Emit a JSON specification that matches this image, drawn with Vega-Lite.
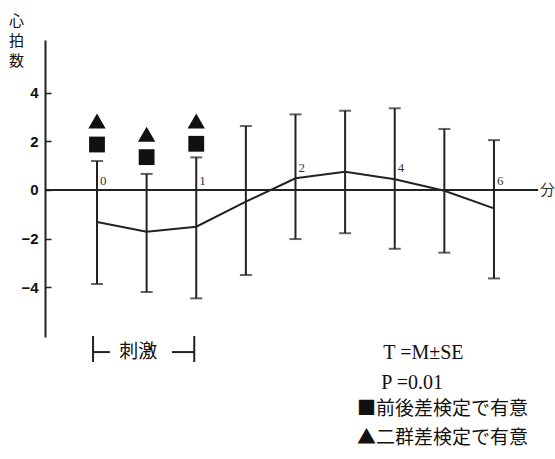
{
  "$schema": "https://vega.github.io/schema/vega-lite/v6.json",
  "autosize": "none",
  "width": 510,
  "height": 297,
  "padding": {"left": 45, "top": 40, "right": 0, "bottom": 122},
  "background": "white",
  "config": {"view": {"stroke": null}},
  "datasets": {
    "hr": [
      {"t": 0, "mean": -1.32, "lower": -3.87, "upper": 1.19},
      {"t": 1, "mean": -1.72, "lower": -4.2, "upper": 0.66},
      {"t": 2, "mean": -1.51, "lower": -4.46, "upper": 1.34},
      {"t": 3, "mean": -0.48, "lower": -3.5, "upper": 2.63},
      {"t": 4, "mean": 0.48, "lower": -2.02, "upper": 3.11},
      {"t": 5, "mean": 0.75, "lower": -1.78, "upper": 3.26},
      {"t": 6, "mean": 0.44, "lower": -2.42, "upper": 3.36},
      {"t": 7, "mean": -0.03, "lower": -2.58, "upper": 2.51},
      {"t": 8, "mean": -0.76, "lower": -3.64, "upper": 2.05}
    ],
    "marks": [
      {"t": 0, "v": 1.87, "kind": "square"},
      {"t": 1, "v": 1.35, "kind": "square"},
      {"t": 2, "v": 1.9, "kind": "square"},
      {"t": 0, "v": 2.84, "kind": "triangle-up"},
      {"t": 1, "v": 2.29, "kind": "triangle-up"},
      {"t": 2, "v": 2.84, "kind": "triangle-up"}
    ],
    "xlabLow": [
      {"t": 0, "label": "0"},
      {"t": 2, "label": "1"},
      {"t": 8, "label": "6"}
    ],
    "xlabHigh": [
      {"t": 4, "label": "2"},
      {"t": 6, "label": "4"}
    ],
    "segments": [
      {"x": -1.048, "x2": 8.89, "y": 0, "y2": 0},
      {"x": -0.08, "x2": -0.08, "y": -6.01, "y2": -7.08},
      {"x": -0.08, "x2": 0.26, "y": -6.67, "y2": -6.67},
      {"x": 1.51, "x2": 1.96, "y": -6.67, "y2": -6.67},
      {"x": 1.96, "x2": 1.96, "y": -6.01, "y2": -7.08}
    ],
    "ytitle": [
      {"x": -1.62, "y": 7.25, "text": ["心", "拍", "数"]}
    ],
    "notesLatin": [
      {"x": 5.77, "y": -6.71, "text": "T =M±SE"},
      {"x": 5.73, "y": -7.95, "text": "P =0.01"}
    ],
    "notesCenter": [
      {"x": 0.83, "y": -6.67, "text": "刺激"}
    ],
    "notesLeft": [
      {"x": 5.24, "y": -9.02, "text": "■前後差検定で有意"},
      {"x": 5.24, "y": -10.21, "text": "▲二群差検定で有意"}
    ],
    "unit": [
      {"x": 8.93, "y": 0, "text": "分"}
    ]
  },
  "layer": [
    {
      "data": {"name": "hr"},
      "mark": {"type": "line", "color": "#222", "strokeWidth": 2},
      "encoding": {
        "x": {"field": "t", "type": "quantitative", "scale": {"domain": [-1.048, 9.23], "nice": false, "zero": false}, "axis": null},
        "y": {
          "field": "mean", "type": "quantitative", "title": null,
          "scale": {"domain": [-6.05, 6.17], "nice": false, "zero": false},
          "axis": {
            "values": [-4, -2, 0, 2, 4],
            "grid": false,
            "domain": true,
            "ticks": true,
            "title": null,
            "domainColor": "#222", "domainWidth": 2,
            "tickColor": "#222", "tickWidth": 1.5, "tickSize": -6,
            "labelPadding": 13,
            "labelFont": "Liberation Sans", "labelFontSize": 15, "labelFontWeight": "bold", "labelColor": "#111"
          }
        }
      }
    },
    {
      "data": {"name": "hr"},
      "mark": {"type": "errorbar", "color": "#222", "thickness": 2, "ticks": {"size": 12, "thickness": 2, "color": "#222"}, "rule": {"strokeWidth": 2, "color": "#222"}},
      "encoding": {
        "x": {"field": "t", "type": "quantitative", "axis": null},
        "y": {"field": "lower", "type": "quantitative", "title": null},
        "y2": {"field": "upper"}
      }
    },
    {
      "data": {"name": "segments"},
      "mark": {"type": "rule", "color": "#222", "strokeWidth": 2},
      "encoding": {
        "x": {"field": "x", "type": "quantitative", "axis": null},
        "x2": {"field": "x2"},
        "y": {"field": "y", "type": "quantitative", "title": null},
        "y2": {"field": "y2"}
      }
    },
    {
      "data": {"name": "marks"},
      "transform": [{"filter": "datum.kind === 'square'"}],
      "mark": {"type": "point", "shape": "square", "filled": true, "size": 250, "color": "#111", "opacity": 1},
      "encoding": {
        "x": {"field": "t", "type": "quantitative", "axis": null},
        "y": {"field": "v", "type": "quantitative", "title": null}
      }
    },
    {
      "data": {"name": "marks"},
      "transform": [{"filter": "datum.kind === 'triangle-up'"}],
      "mark": {"type": "point", "shape": "triangle-up", "filled": true, "size": 300, "color": "#111", "opacity": 1},
      "encoding": {
        "x": {"field": "t", "type": "quantitative", "axis": null},
        "y": {"field": "v", "type": "quantitative", "title": null}
      }
    },
    {
      "data": {"name": "xlabLow"},
      "mark": {"type": "text", "align": "left", "baseline": "bottom", "dx": 3, "dy": -2, "font": "Liberation Serif", "fontSize": 13, "color": "#333"},
      "encoding": {
        "x": {"field": "t", "type": "quantitative", "axis": null},
        "y": {"datum": 0, "type": "quantitative", "title": null},
        "text": {"field": "label"}
      }
    },
    {
      "data": {"name": "xlabHigh"},
      "mark": {"type": "text", "align": "left", "baseline": "bottom", "dx": 3, "dy": -15, "font": "Liberation Serif", "fontSize": 13, "color": "#333"},
      "encoding": {
        "x": {"field": "t", "type": "quantitative", "axis": null},
        "y": {"datum": 0, "type": "quantitative", "title": null},
        "text": {"field": "label"}
      }
    },
    {
      "data": {"name": "ytitle"},
      "mark": {"type": "text", "align": "center", "baseline": "top", "font": "Noto Sans CJK JP", "fontSize": 15, "lineHeight": 20, "color": "#111"},
      "encoding": {
        "x": {"field": "x", "type": "quantitative", "axis": null},
        "y": {"field": "y", "type": "quantitative", "title": null},
        "text": {"field": "text"}
      }
    },
    {
      "data": {"name": "notesLatin"},
      "mark": {"type": "text", "align": "left", "baseline": "middle", "font": "Liberation Serif", "fontSize": 20, "color": "#111"},
      "encoding": {
        "x": {"field": "x", "type": "quantitative", "axis": null},
        "y": {"field": "y", "type": "quantitative", "title": null},
        "text": {"field": "text"}
      }
    },
    {
      "data": {"name": "notesCenter"},
      "mark": {"type": "text", "align": "center", "baseline": "middle", "font": "Noto Sans CJK JP", "fontSize": 19, "color": "#111"},
      "encoding": {
        "x": {"field": "x", "type": "quantitative", "axis": null},
        "y": {"field": "y", "type": "quantitative", "title": null},
        "text": {"field": "text"}
      }
    },
    {
      "data": {"name": "notesLeft"},
      "mark": {"type": "text", "align": "left", "baseline": "middle", "font": "Noto Sans CJK JP", "fontSize": 19, "color": "#111"},
      "encoding": {
        "x": {"field": "x", "type": "quantitative", "axis": null},
        "y": {"field": "y", "type": "quantitative", "title": null},
        "text": {"field": "text"}
      }
    },
    {
      "data": {"name": "unit"},
      "mark": {"type": "text", "align": "left", "baseline": "middle", "font": "Noto Sans CJK JP", "fontSize": 15, "color": "#333"},
      "encoding": {
        "x": {"field": "x", "type": "quantitative", "axis": null},
        "y": {"field": "y", "type": "quantitative", "title": null},
        "text": {"field": "text"}
      }
    }
  ]
}
